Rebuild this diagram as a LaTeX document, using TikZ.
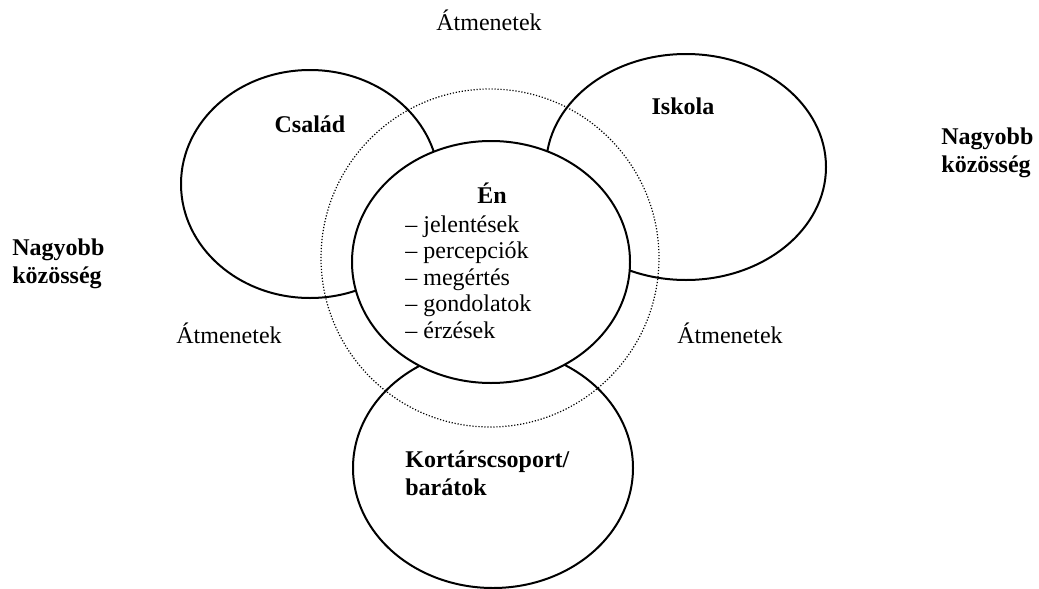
\documentclass[tikz,border=0pt]{standalone}
\usepackage{fontspec}
\setmainfont{Liberation Serif}
\usepackage{tikz}

\begin{document}
\begin{tikzpicture}[x=0.5pt, y=-0.5pt,
    ring/.style={line width=1pt},
    word/.style={inner sep=0pt, font=\fontsize{12}{13.75}\selectfont},
    head/.style={inner sep=0pt, font=\fontsize{12}{13.75}\selectfont\bfseries}]
    \useasboundingbox (0,0) rectangle (1039,589);
    \draw[ring] (310,184) ellipse [x radius=129, y radius=114];
    \draw[ring] (686,167) ellipse [x radius=140, y radius=113];
    \draw[ring] (493,468) ellipse [x radius=140, y radius=120];
    \draw[line width=0.6pt, dash pattern=on 0.6pt off 0.9pt] (490,258) circle [radius=169];
    \filldraw[ring, fill=white] (491,262) ellipse [x radius=139, y radius=121];
    \node[word, anchor=base] (attop) at (489,31) {Átmenetek};
    \node[word, anchor=base] (atleft) at (229,343) {Átmenetek};
    \node[word, anchor=base] (atright) at (730,343) {Átmenetek};
    \node[head, anchor=base] (csalad) at (310,132) {Család};
    \node[head, anchor=base] (iskola) at (683,114) {Iskola};
    \node[head, anchor=base] (en) at (492,203) {Én};
    \node[word, font=\fontsize{12}{13.25}\selectfont, anchor=base west, align=left] (enlist) at (405,338)
        {-- jelentések\\ -- percepciók\\ -- megértés\\ -- gondolatok\\ -- érzések};
    \node[head, anchor=base west, align=left] (kortars) at (405,495)
        {Kortárscsoport/\\ barátok};
    \node[head, anchor=base west, align=left] (nagyleft) at (12,283)
        {Nagyobb\\ közösség};
    \node[head, anchor=base west, align=left] (nagyright) at (941,172)
        {Nagyobb\\ közösség};
\end{tikzpicture}
\end{document}
